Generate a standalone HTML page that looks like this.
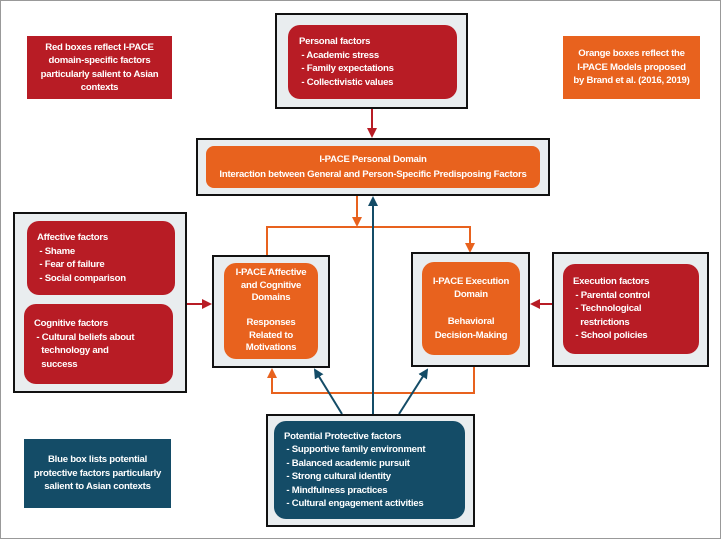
<!DOCTYPE html>
<html><head><meta charset="utf-8"><style>
body{margin:0;width:721px;height:539px;background:#fff;position:relative;overflow:hidden;font-family:"Liberation Sans Narrow","Liberation Sans",sans-serif;font-weight:bold;color:#fff;font-size:9.6px;letter-spacing:-0.25px;line-height:13.5px;white-space:nowrap}
.frame{position:absolute;left:0;top:0;width:719px;height:537px;border:1px solid #999}
.o{position:absolute;background:#e9edef;border:2.5px solid #111;box-sizing:border-box}
.b{position:absolute;box-sizing:border-box}
.red{background:#b81c25}.or{background:#e8621e}.bl{background:#144c67}
.r{border-radius:12px}
.c{text-align:center;display:flex;flex-direction:column;justify-content:center;align-items:center}
.l{padding-left:10px;display:flex;flex-direction:column;justify-content:center}
</style></head><body>
<div class="frame"></div>
<svg width="721" height="539" style="position:absolute;left:0;top:0">
<defs>
<marker id="ar" markerWidth="5" markerHeight="5" refX="4" refY="2.5" orient="auto"><path d="M0,0L5,2.5L0,5z" fill="#b81c25"/></marker>
<marker id="ao" markerWidth="5" markerHeight="5" refX="4" refY="2.5" orient="auto"><path d="M0,0L5,2.5L0,5z" fill="#e8621e"/></marker>
<marker id="ab" markerWidth="5" markerHeight="5" refX="4" refY="2.5" orient="auto"><path d="M0,0L5,2.5L0,5z" fill="#144c67"/></marker>
</defs>
<g stroke-width="2" fill="none">
<line x1="372" y1="108" x2="372" y2="136" stroke="#b81c25" marker-end="url(#ar)"/>
<line x1="186" y1="304" x2="210" y2="304" stroke="#b81c25" marker-end="url(#ar)"/>
<line x1="552" y1="304" x2="532" y2="304" stroke="#b81c25" marker-end="url(#ar)"/>
<line x1="357" y1="195" x2="357" y2="225" stroke="#e8621e" marker-end="url(#ao)"/>
<polyline points="267,255 267,227 470,227 470,251" stroke="#e8621e" marker-end="url(#ao)"/>
<polyline points="474,366 474,393 272,393 272,370" stroke="#e8621e" marker-end="url(#ao)"/>
<line x1="373" y1="414" x2="373" y2="198" stroke="#144c67" marker-end="url(#ab)"/>
<line x1="342" y1="414" x2="315" y2="370" stroke="#144c67" marker-end="url(#ab)"/>
<line x1="399" y1="414" x2="427" y2="370" stroke="#144c67" marker-end="url(#ab)"/>
</g></svg>

<div class="b red c" style="left:27px;top:36px;width:145px;height:63px">Red boxes reflect I-PACE<br>domain-specific factors<br>particularly salient to Asian<br>contexts</div>
<div class="b or c" style="left:563px;top:36px;width:137px;height:63px">Orange boxes reflect the<br>I-PACE Models proposed<br>by Brand et al. (2016, 2019)</div>
<div class="b bl c" style="left:24px;top:439px;width:147px;height:69px">Blue box lists potential<br>protective factors particularly<br>salient to Asian contexts</div>

<div class="o" style="left:275px;top:13px;width:193px;height:96px"></div>
<div class="b red r l" style="left:288px;top:25px;width:169px;height:74px;padding-left:11px">Personal factors<div>&nbsp;- Academic stress</div><div>&nbsp;- Family expectations</div><div>&nbsp;- Collectivistic values</div></div>

<div class="o" style="left:196px;top:138px;width:354px;height:58px"></div>
<div class="b or r c" style="left:206px;top:146px;width:334px;height:42px;border-radius:8px;line-height:15px">I-PACE Personal Domain<br>Interaction between General and Person-Specific Predisposing Factors</div>

<div class="o" style="left:13px;top:212px;width:174px;height:181px"></div>
<div class="b red r l" style="left:27px;top:221px;width:148px;height:74px">Affective factors<div>&nbsp;- Shame</div><div>&nbsp;- Fear of failure</div><div>&nbsp;- Social comparison</div></div>
<div class="b red r l" style="left:24px;top:304px;width:149px;height:80px">Cognitive factors<div>&nbsp;- Cultural beliefs about</div><div>&nbsp;&nbsp;&nbsp;technology and</div><div>&nbsp;&nbsp;&nbsp;success</div></div>

<div class="o" style="left:212px;top:255px;width:118px;height:113px"></div>
<div class="b or r c" style="left:224px;top:263px;width:94px;height:96px;line-height:12.5px">I-PACE Affective<br>and Cognitive<br>Domains<br><br>Responses<br>Related to<br>Motivations</div>

<div class="o" style="left:411px;top:252px;width:119px;height:115px"></div>
<div class="b or r c" style="left:422px;top:262px;width:98px;height:93px">I-PACE Execution<br>Domain<br><br>Behavioral<br>Decision-Making</div>

<div class="o" style="left:552px;top:252px;width:157px;height:115px"></div>
<div class="b red r l" style="left:563px;top:264px;width:136px;height:90px">Execution factors<div>&nbsp;- Parental control</div><div>&nbsp;- Technological</div><div>&nbsp;&nbsp;&nbsp;restrictions</div><div>&nbsp;- School policies</div></div>

<div class="o" style="left:266px;top:414px;width:209px;height:113px"></div>
<div class="b bl r l" style="left:274px;top:421px;width:191px;height:98px">Potential Protective factors<div>&nbsp;- Supportive family environment</div><div>&nbsp;- Balanced academic pursuit</div><div>&nbsp;- Strong cultural identity</div><div>&nbsp;- Mindfulness practices</div><div>&nbsp;- Cultural engagement activities</div></div>
</body></html>
